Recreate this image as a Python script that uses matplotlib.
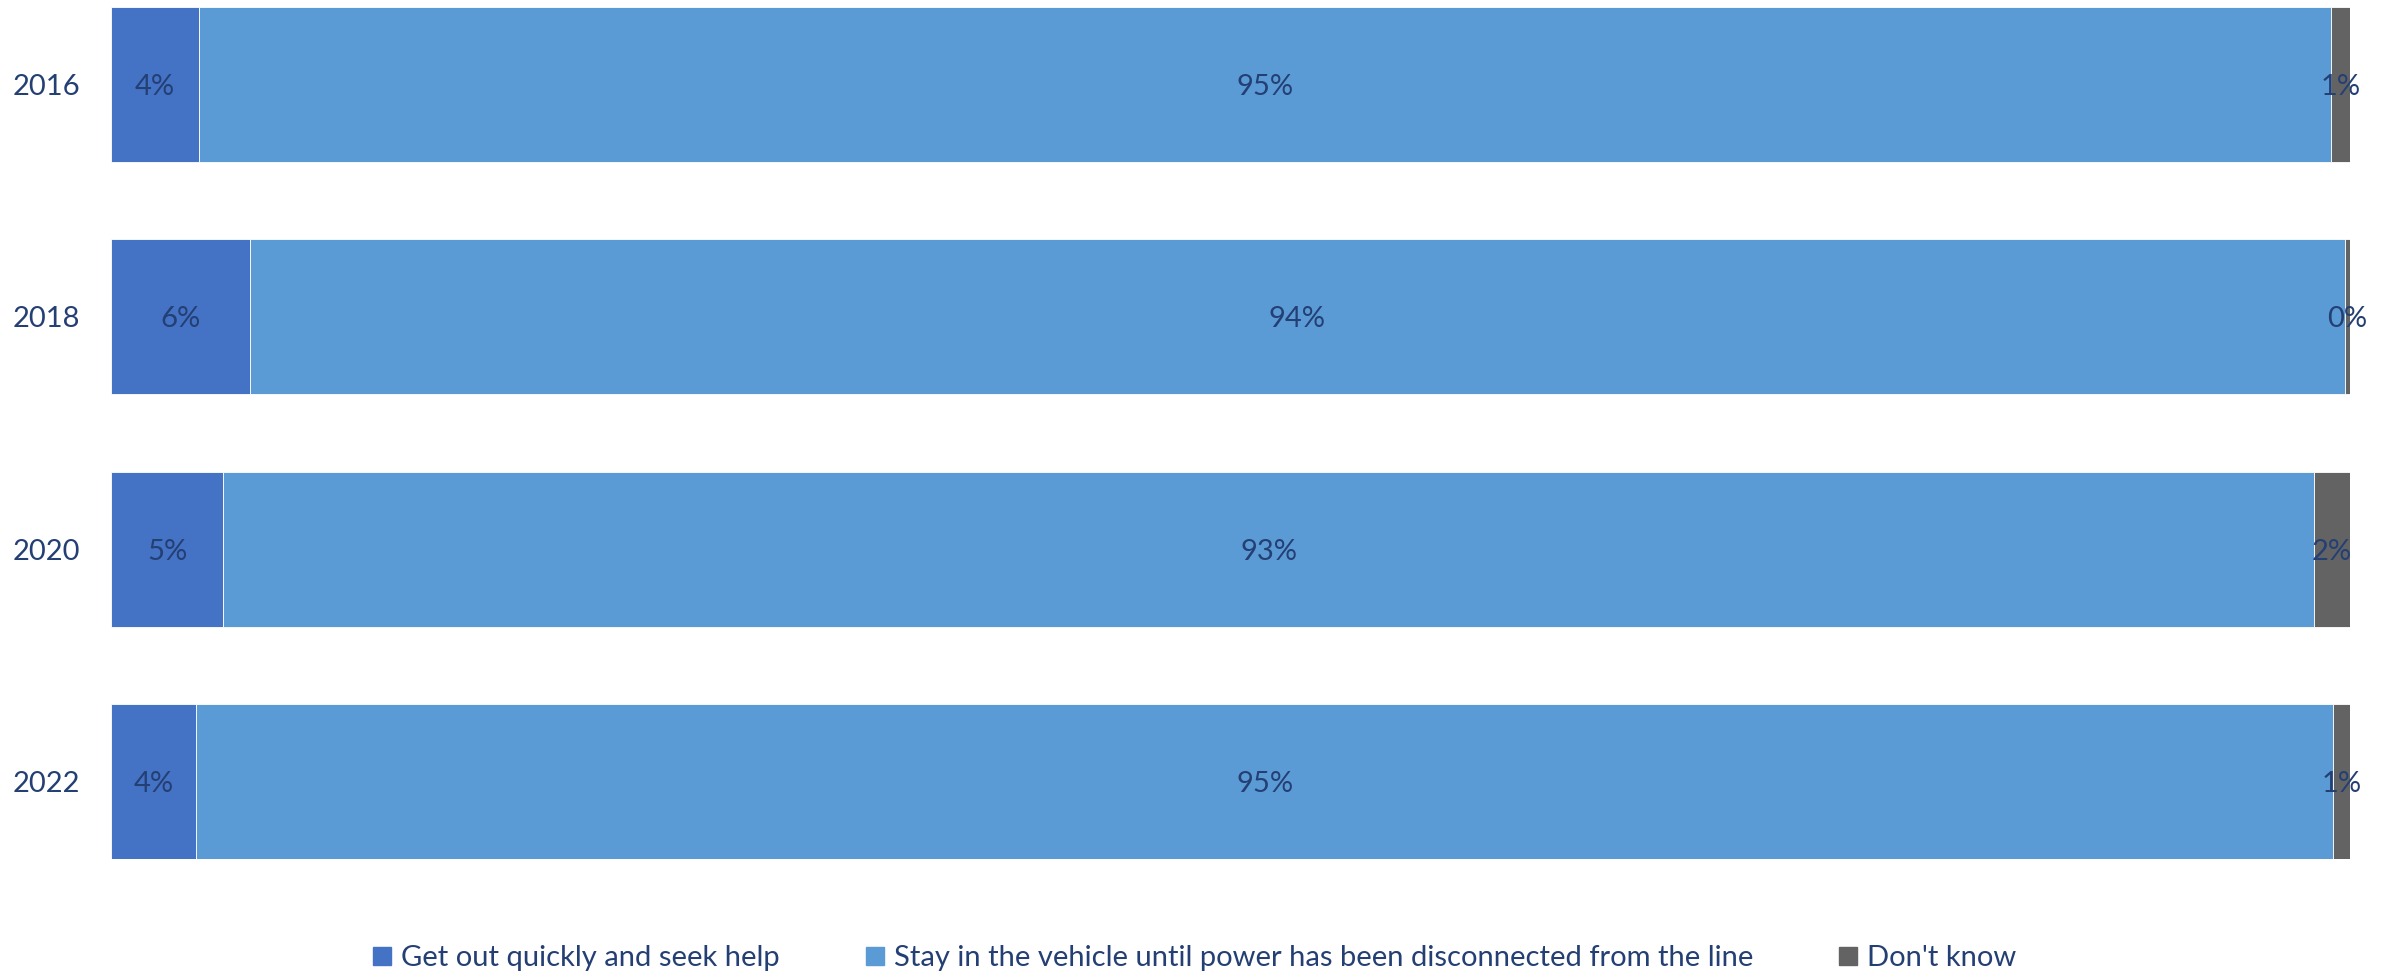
import matplotlib
matplotlib.use("Agg")
import matplotlib.pyplot as plt
from matplotlib.lines import Line2D

plt.rcParams["font.family"] = ["Lato", "DejaVu Sans"]

years = ["2016", "2018", "2020", "2022"]
series_names = [
    "Get out quickly and seek help",
    "Stay in the vehicle until power has been disconnected from the line",
    "Don't know",
]
get_out = [3.93, 6.2, 5.0, 3.8]
stay_in = [95.22, 93.58, 93.4, 95.45]
dont_know = [0.85, 0.22, 1.6, 0.75]

colors = ["#4472C4", "#5B9BD5", "#636363"]
text_color = "#243F73"
fs = 21

fig = plt.figure(figsize=(23.92, 9.72), dpi=100)
ax = fig.add_axes([111 / 2392, 1 - 859 / 972, 2239 / 2392, 852 / 972])

bar_h = 0.665
ypos = list(range(len(years)))
left = [0.0] * len(years)
for name, vals, col in zip(series_names, [get_out, stay_in, dont_know], colors):
    ax.barh(ypos, vals, left=left, height=bar_h, color=col,
            edgecolor="white", linewidth=0.6, label=name)
    for y, l, v in zip(ypos, left, vals):
        ax.text(l + v / 2, y, f"{round(v):d}%", ha="center",
                va="center_baseline", fontsize=fs, color=text_color)
    left = [a + b for a, b in zip(left, vals)]

ax.set_xlim(0, 100)
ax.set_ylim(len(years) - 1 + bar_h / 2, -bar_h / 2)
ax.set_yticks(ypos)
ax.set_yticklabels(years, fontsize=fs, color=text_color, va="center_baseline")
ax.tick_params(axis="y", length=0, pad=22)
ax.set_xticks([])
for s in ax.spines.values():
    s.set_visible(False)

handles = [Line2D([], [], marker="s", linestyle="none", markersize=13,
                  markerfacecolor=c, markeredgecolor=c) for c in colors]
leg = fig.legend(handles, series_names, loc="center", ncol=3,
                 bbox_to_anchor=(1194 / 2392, 1 - 958 / 972),
                 frameon=False, fontsize=fs, handlelength=0.7,
                 handletextpad=0.3, columnspacing=2.9)
for t in leg.get_texts():
    t.set_color(text_color)

fig.savefig("out.png", dpi=100)
